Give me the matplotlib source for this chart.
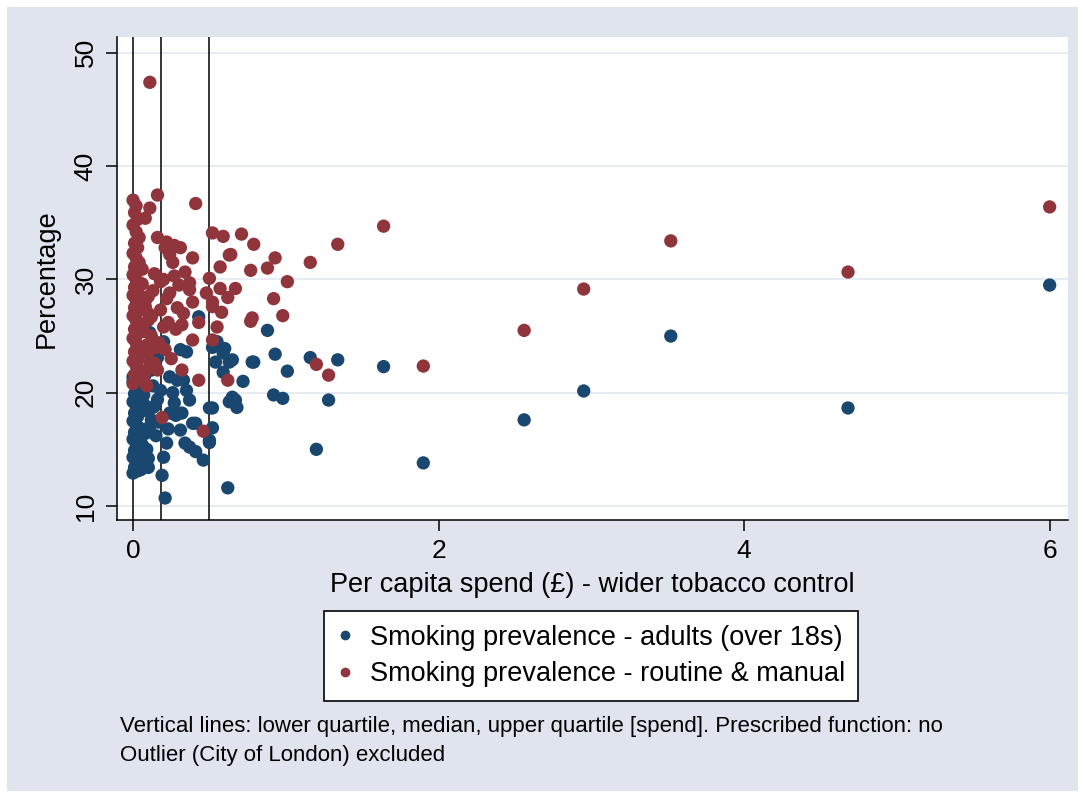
import matplotlib
matplotlib.use("Agg")
import matplotlib.pyplot as plt
from matplotlib.patches import Rectangle
from matplotlib.lines import Line2D

plt.rcParams['font.family'] = ['Liberation Sans', 'DejaVu Sans']

# per capita spend and prevalence
# adults (over 18s)
adult_x = [6.0, 4.68, 3.52, 2.95, 2.56, 1.90, 1.64, 1.34, 1.28, 1.20, 1.16,
           0.88, 0.93, 1.01, 0.92, 0.98, 0.79, 0.65, 0.72, 0.67, 0.68,
           0.27, 0.31, 0.41, 0.50, 0.63, 0.50, 0.37, 0.46, 0.22, 0.20, 0.19,
           0.10, 0.05, 0.24, 0.13, 0.03, 0.21, 0.62,
           0.35, 0.52, 0.59, 0.63, 0.54, 0.78, 0.59, 0.33, 0.35, 0.37, 0.65,
           0.52, 0.32, 0.39, 0.52, 0.50, 0.34, 0.41,
           0.11, 0.20, 0.31, 0.43, 0.55, 0.60, 0.16, 0.00, 0.24, 0.29,
           0.00, 0.02, 0.04, 0.01, 0.03, 0.00, 0.02, 0.04, 0.01, 0.03,
           0.00, 0.02, 0.04, 0.01, 0.03, 0.00, 0.02, 0.04, 0.01, 0.03,
           0.00, 0.02, 0.04, 0.01, 0.03, 0.00, 0.02, 0.04, 0.01, 0.03,
           0.07, 0.09, 0.12, 0.08, 0.06, 0.10, 0.13, 0.07, 0.11, 0.09,
           0.14, 0.17, 0.15, 0.18, 0.26, 0.28, 0.23, 0.16, 0.12, 0.08]
adult_y = [29.5, 18.65, 25.0, 20.15, 17.6, 13.8, 22.3, 22.9, 19.35, 15.0, 23.1,
           25.5, 23.4, 21.9, 19.8, 19.5, 22.7, 22.9, 21.0, 19.35, 18.7,
           19.1, 16.7, 17.3, 18.65, 19.2, 15.8, 15.2, 14.05, 15.55, 14.3, 12.7,
           13.4, 13.2, 18.2, 18.7, 19.35, 10.7, 11.6,
           23.6, 24.0, 23.5, 22.7, 22.7, 22.7, 21.8, 21.1, 20.2, 19.35, 19.6,
           18.65, 18.2, 17.3, 16.9, 15.6, 15.55, 14.8,
           25.3, 24.5, 23.8, 26.7, 24.5, 23.9, 23.1, 21.4, 21.4, 21.1,
           21.0, 20.6, 20.3, 19.9, 19.6, 19.2, 18.9, 18.5, 18.2, 17.9,
           17.5, 17.2, 16.9, 16.5, 16.2, 15.9, 15.6, 15.2, 14.9, 14.6,
           14.3, 14.0, 13.7, 13.4, 13.1, 12.9, 18.0, 16.0, 14.4, 20.0,
           19.8, 18.4, 17.6, 16.4, 15.4, 14.2, 20.6, 19.0, 17.0, 15.0,
           18.8, 17.4, 16.2, 20.2, 20.0, 18.0, 16.8, 19.4, 22.0, 21.6]

# routine & manual
rm_x = [6.0, 4.68, 3.52, 2.95, 2.56, 1.90, 1.64, 1.34, 1.28, 1.20, 1.16,
        0.93, 0.88, 1.01, 0.92, 0.98, 0.77,
        0.71, 0.79, 0.64, 0.77, 0.67,
        0.41, 0.52, 0.59, 0.63, 0.57, 0.39, 0.31, 0.34, 0.37, 0.50, 0.39,
        0.52, 0.58, 0.78, 0.52, 0.32, 0.43, 0.55, 0.39, 0.52, 0.32, 0.43,
        0.62, 0.46, 0.19,
        0.16, 0.11, 0.08, 0.16, 0.22, 0.27, 0.24, 0.26, 0.21, 0.11,
        0.08, 0.12, 0.20, 0.18, 0.24, 0.29, 0.37, 0.48, 0.57, 0.62,
        0.16, 0.03, 0.07, 0.18,
        0.14, 0.20, 0.27, 0.13, 0.22, 0.10, 0.30, 0.15, 0.10, 0.25,
        0.00, 0.02, 0.01, 0.03, 0.00, 0.02, 0.04, 0.01, 0.03, 0.00,
        0.02, 0.04, 0.01, 0.03, 0.00, 0.02, 0.04, 0.01, 0.03, 0.00,
        0.02, 0.04, 0.01, 0.03, 0.00, 0.02, 0.04, 0.01, 0.03, 0.00,
        0.02, 0.04, 0.01, 0.03, 0.00, 0.02, 0.04, 0.01, 0.03, 0.00,
        0.06, 0.08, 0.10, 0.07, 0.09, 0.05, 0.11, 0.08, 0.06, 0.10,
        0.12, 0.17, 0.23, 0.28, 0.14, 0.21, 0.09, 0.33]
rm_y = [36.4, 30.65, 33.4, 29.15, 25.5, 22.35, 34.7, 33.1, 21.55, 22.5, 31.5,
        31.9, 31.0, 29.8, 28.3, 26.8, 26.3,
        34.0, 33.1, 32.2, 30.8, 29.2,
        36.7, 34.1, 33.8, 32.15, 31.1, 31.9, 32.8, 30.65, 29.7, 30.1, 28.0,
        28.0, 27.1, 26.6, 27.6, 26.0, 26.2, 25.8, 24.65, 24.65, 22.0, 21.1,
        21.1, 16.6, 17.8,
        37.45, 36.3, 35.4, 33.7, 33.3, 33.0, 32.2, 31.5, 32.8, 47.4,
        27.6, 26.7, 25.8, 27.3, 28.8, 27.5, 29.1, 28.8, 29.2, 28.4,
        22.0, 22.9, 21.1, 29.8,
        30.5, 30.0, 30.3, 29.0, 28.3, 28.5, 29.5, 24.0, 23.5, 23.0,
        37.0, 36.5, 35.9, 35.3, 34.8, 34.2, 33.7, 33.2, 32.8, 32.3,
        31.9, 31.5, 31.1, 30.8, 30.4, 30.0, 29.7, 29.3, 29.0, 28.6,
        28.2, 27.9, 27.5, 27.2, 26.8, 26.4, 26.0, 25.6, 25.2, 24.8,
        24.4, 24.0, 23.6, 23.2, 22.8, 22.4, 22.0, 21.6, 21.2, 20.8,
        29.6, 28.1, 27.0, 25.4, 24.2, 23.4, 22.6, 21.8, 30.9, 26.4,
        25.0, 24.4, 26.2, 25.6, 22.6, 23.8, 20.6, 27.0]

quartiles = [0.0, 0.18, 0.50]

x_ticks = [0, 2, 4, 6]
y_ticks = [10, 20, 30, 40, 50]

labels = ["Smoking prevalence - adults (over 18s)",
          "Smoking prevalence - routine & manual"]
note = ("Vertical lines: lower quartile, median, upper quartile [spend]. "
        "Prescribed function: no\nOutlier (City of London) excluded")

navy = "#1a476f"
maroon = "#90353b"
bg = "#dfe4ef"
grid = "#e3e8f2"

W, H = 1085, 798
fig = plt.figure(figsize=(W / 100, H / 100), dpi=100)
fig.patch.set_facecolor("white")
fig.patches.append(Rectangle((7 / W, 7 / H), 1071 / W, 784 / H,
                             transform=fig.transFigure, facecolor=bg,
                             edgecolor="none", zorder=-10))

ax = fig.add_axes([117 / W, 1 - 520 / H, 951 / W, 483 / H])
ax.set_facecolor("white")
ax.set_xlim(-0.105, 6.12)
ax.set_ylim(8.76, 51.4)

for s in ["top", "right"]:
    ax.spines[s].set_visible(False)
for s in ["left", "bottom"]:
    ax.spines[s].set_linewidth(1.1)

ax.set_yticks(y_ticks)
ax.set_xticks(x_ticks)
ax.tick_params(axis="both", direction="out", length=8, width=1.1,
               labelsize=19, pad=6)
plt.setp(ax.get_yticklabels(), rotation=90, va="center")
ax.yaxis.grid(True, color=grid, linewidth=1.2)
ax.set_axisbelow(True)

for q in quartiles:
    ax.axvline(q, color="black", linewidth=1.1, zorder=1)

ax.scatter(adult_x, adult_y, s=92, color=navy, edgecolors="none", zorder=3)
ax.scatter(rm_x, rm_y, s=92, color=maroon, edgecolors="none", zorder=3)

ax.set_xlabel("Per capita spend (\u00a3) - wider tobacco control",
              fontsize=19.5, labelpad=6)
ax.set_ylabel("Percentage", fontsize=19.5, labelpad=10)

handles = [Line2D([], [], marker="o", color=navy, linestyle="none", markersize=6),
           Line2D([], [], marker="o", color=maroon, linestyle="none", markersize=6)]
leg = fig.legend(handles, labels, loc="center",
                 bbox_to_anchor=(591 / W, 1 - 656 / H), fontsize=19.5,
                 frameon=True, fancybox=False, framealpha=1,
                 handletextpad=0.6, handlelength=0.6, borderpad=0.5,
                 labelspacing=0.4, borderaxespad=0)
leg.get_frame().set_edgecolor("black")
leg.get_frame().set_linewidth(1.2)

fig.text(120 / W, 1 - 741 / H, note, fontsize=16, va="center",
         linespacing=1.55)

fig.savefig("out.png", dpi=100)
